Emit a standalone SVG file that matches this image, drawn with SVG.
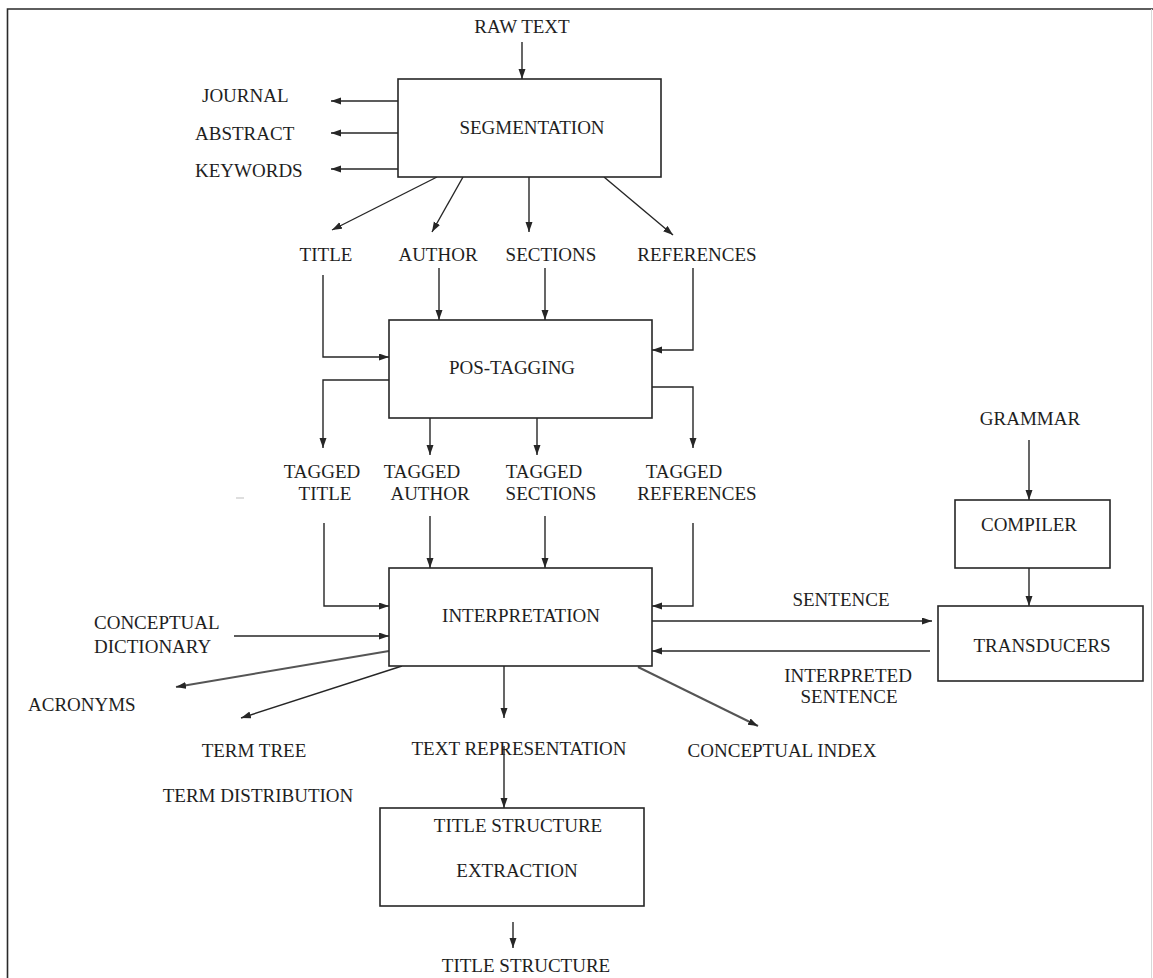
<svg xmlns="http://www.w3.org/2000/svg" width="1153" height="978" viewBox="0 0 1153 978">
  <style>
    text { font-family: "Liberation Serif", "Times New Roman", serif; font-size: 19px; fill: #1e1e1e; }
    .c { text-anchor: middle; }
    .box { fill: #ffffff; stroke: #262626; stroke-width: 1.6; }
    .ln { fill: none; stroke: #262626; stroke-width: 1.4; }
    .ln.arr { marker-end: url(#ah); }
    .soft { stroke: #555555; stroke-width: 2; }
    .frame { fill: none; stroke: #2a2a2a; stroke-width: 1.6; }
  </style>
  <defs>
    <marker id="ah" markerUnits="userSpaceOnUse" markerWidth="11" markerHeight="8" refX="10" refY="3.5" orient="auto">
      <path d="M0,0 L10,3.5 L0,7 z" fill="#262626"/>
    </marker>
  </defs>

  <rect width="1153" height="978" fill="#ffffff"/>

  <!-- page frame -->
  <g id="frame">
    <path class="frame" d="M7.5,978 V9 H1153"/>
    <path d="M1151.5,9 V978" stroke="#d8d8d8" stroke-width="1" fill="none"/>
    <path d="M236,498 h8" stroke="#c8c8c8" stroke-width="1.2"/>
  </g>

  <!-- connectors -->
  <g id="connectors">
    <path class="ln arr" d="M522,42 V79"/>
    <path class="ln arr" d="M398,101 H331"/>
    <path class="ln arr" d="M398,133 H331"/>
    <path class="ln arr" d="M398,169 H331"/>
    <path class="ln arr" d="M437,177 L332,230"/>
    <path class="ln arr" d="M463,177 L432,232"/>
    <path class="ln arr" d="M529,177 V232"/>
    <path class="ln arr" d="M604,177 L673,235"/>

    <path class="ln arr" d="M323,275 V357 H389"/>
    <path class="ln arr" d="M439,268 V320"/>
    <path class="ln arr" d="M545,268 V320"/>
    <path class="ln arr" d="M693,268 V350 H652"/>

    <path class="ln arr" d="M389,380 H323 V448"/>
    <path class="ln arr" d="M430,418 V455"/>
    <path class="ln arr" d="M537,418 V455"/>
    <path class="ln arr" d="M652,387 H693 V448"/>

    <path class="ln arr" d="M324,523 V606 H389"/>
    <path class="ln arr" d="M430,516 V568"/>
    <path class="ln arr" d="M545,516 V568"/>
    <path class="ln arr" d="M693,523 V606 H652"/>

    <path class="ln arr" d="M234,636 H389"/>
    <path class="ln arr soft" d="M389,651 L176,687"/>
    <path class="ln arr" d="M402,666 L241,718"/>
    <path class="ln arr" d="M504,666 V718"/>
    <path class="ln arr soft" d="M638,667 L758,726"/>

    <path class="ln arr" d="M652,621 H932"/>
    <path class="ln arr" d="M930,651 H652"/>

    <path class="ln arr" d="M1029,440 V500"/>
    <path class="ln arr" d="M1029,568 V606"/>

    <path class="ln arr" d="M504,746 V808"/>
    <path class="ln arr" d="M513,922 V948"/>
  </g>

  <!-- processing nodes -->
  <g id="segmentation">
    <rect class="box" x="398" y="79" width="263" height="98"/>
    <text class="c" x="532" y="134">SEGMENTATION</text>
  </g>
  <g id="pos-tagging">
    <rect class="box" x="389" y="320" width="263" height="98"/>
    <text class="c" x="512" y="374">POS-TAGGING</text>
  </g>
  <g id="interpretation">
    <rect class="box" x="389" y="568" width="263" height="98"/>
    <text class="c" x="521" y="622">INTERPRETATION</text>
  </g>
  <g id="compiler">
    <rect class="box" x="955" y="500" width="155" height="68"/>
    <text class="c" x="1029" y="531">COMPILER</text>
  </g>
  <g id="transducers">
    <rect class="box" x="938" y="606" width="205" height="75"/>
    <text class="c" x="1042" y="652">TRANSDUCERS</text>
  </g>
  <g id="title-structure-extraction">
    <rect class="box" x="380" y="808" width="264" height="98"/>
    <text class="c" x="518" y="832">TITLE STRUCTURE</text>
    <text class="c" x="517" y="877">EXTRACTION</text>
  </g>

  <!-- data labels -->
  <g id="raw-text"><text class="c" x="522" y="33">RAW TEXT</text></g>
  <g id="journal"><text x="202" y="102">JOURNAL</text></g>
  <g id="abstract"><text x="195" y="140">ABSTRACT</text></g>
  <g id="keywords"><text x="195" y="177">KEYWORDS</text></g>

  <g id="title"><text class="c" x="326" y="261">TITLE</text></g>
  <g id="author"><text class="c" x="438" y="261">AUTHOR</text></g>
  <g id="sections"><text class="c" x="551" y="261">SECTIONS</text></g>
  <g id="references"><text class="c" x="697" y="261">REFERENCES</text></g>

  <g id="tagged-title">
    <text class="c" x="322" y="478">TAGGED</text>
    <text class="c" x="325" y="500">TITLE</text>
  </g>
  <g id="tagged-author">
    <text class="c" x="422" y="478">TAGGED</text>
    <text class="c" x="430" y="500">AUTHOR</text>
  </g>
  <g id="tagged-sections">
    <text class="c" x="544" y="478">TAGGED</text>
    <text class="c" x="551" y="500">SECTIONS</text>
  </g>
  <g id="tagged-references">
    <text class="c" x="684" y="478">TAGGED</text>
    <text class="c" x="697" y="500">REFERENCES</text>
  </g>

  <g id="grammar"><text class="c" x="1030" y="425">GRAMMAR</text></g>

  <g id="conceptual-dictionary">
    <text x="94" y="629">CONCEPTUAL</text>
    <text x="94" y="653">DICTIONARY</text>
  </g>
  <g id="sentence"><text class="c" x="841" y="606">SENTENCE</text></g>
  <g id="interpreted-sentence">
    <text class="c" x="848" y="682">INTERPRETED</text>
    <text class="c" x="849" y="703">SENTENCE</text>
  </g>
  <g id="acronyms"><text x="28" y="711">ACRONYMS</text></g>
  <g id="term-tree"><text class="c" x="254" y="757">TERM TREE</text></g>
  <g id="term-distribution"><text class="c" x="258" y="802">TERM DISTRIBUTION</text></g>
  <g id="text-representation"><text class="c" x="519" y="755">TEXT REPRESENTATION</text></g>
  <g id="conceptual-index"><text class="c" x="782" y="757">CONCEPTUAL INDEX</text></g>
  <g id="title-structure"><text class="c" x="526" y="972">TITLE STRUCTURE</text></g>
</svg>
